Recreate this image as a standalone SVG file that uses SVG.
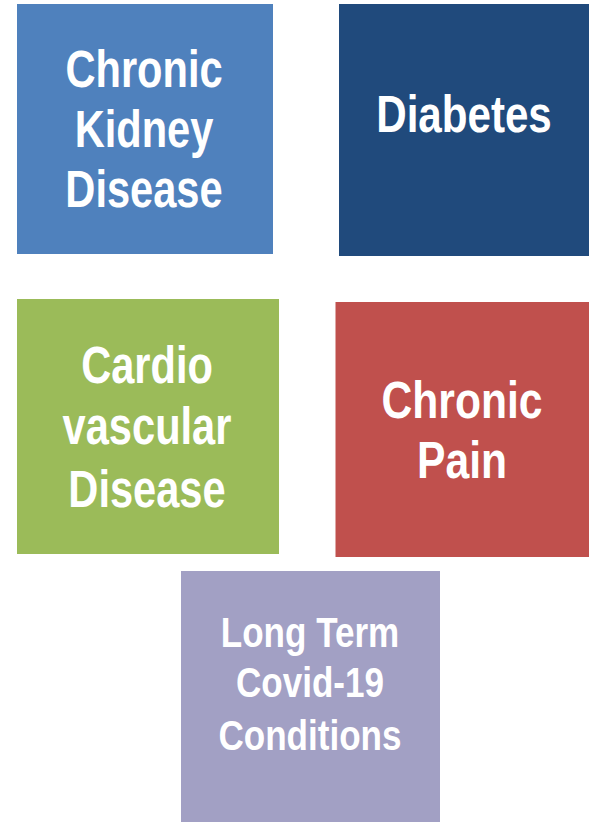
<svg xmlns="http://www.w3.org/2000/svg" width="595" height="822" viewBox="0 0 595 822">
<style>
.lbl{font-family:"Liberation Sans",Arial,sans-serif;font-weight:bold;fill:#ffffff;text-anchor:middle;font-size:52px}
.sm{font-size:42px}
</style>
<rect width="595" height="822" fill="#ffffff"/>
<g id="ckd">
<rect x="17" y="4" width="256" height="250" fill="#4F81BD"/>
<g transform="matrix(0.8 0 0 1 144 0)">
<text class="lbl" x="0" y="87">Chronic</text>
<text class="lbl" x="0" y="147">Kidney</text>
<text class="lbl" x="0" y="207">Disease</text>
</g>
</g>
<g id="diabetes">
<rect x="339" y="4" width="250" height="252" fill="#204A7C"/>
<g transform="matrix(0.81 0 0 1 464 0)">
<text class="lbl" x="0" y="132">Diabetes</text>
</g>
</g>
<g id="cvd">
<rect x="17" y="299" width="262" height="255" fill="#9BBB59"/>
<g transform="matrix(0.8 0 0 1 147 0)">
<text class="lbl" x="0" y="383">Cardio</text>
<text class="lbl" x="0" y="444">vascular</text>
<text class="lbl" x="0" y="507">Disease</text>
</g>
</g>
<g id="pain">
<rect x="335.5" y="302" width="253.5" height="255" fill="#C0504D"/>
<g transform="matrix(0.82 0 0 1 462 0)">
<text class="lbl" x="0" y="418">Chronic</text>
<text class="lbl" x="0" y="478">Pain</text>
</g>
</g>
<g id="covid">
<rect x="181" y="571" width="259" height="251" fill="#A2A0C4"/>
<g transform="matrix(0.835 0 0 1 310 0)">
<text class="lbl sm" x="0" y="647">Long Term</text>
<text class="lbl sm" x="0" y="697">Covid-19</text>
<text class="lbl sm" x="0" y="750">Conditions</text>
</g>
</g>
<g id="connectors"></g>
</svg>
